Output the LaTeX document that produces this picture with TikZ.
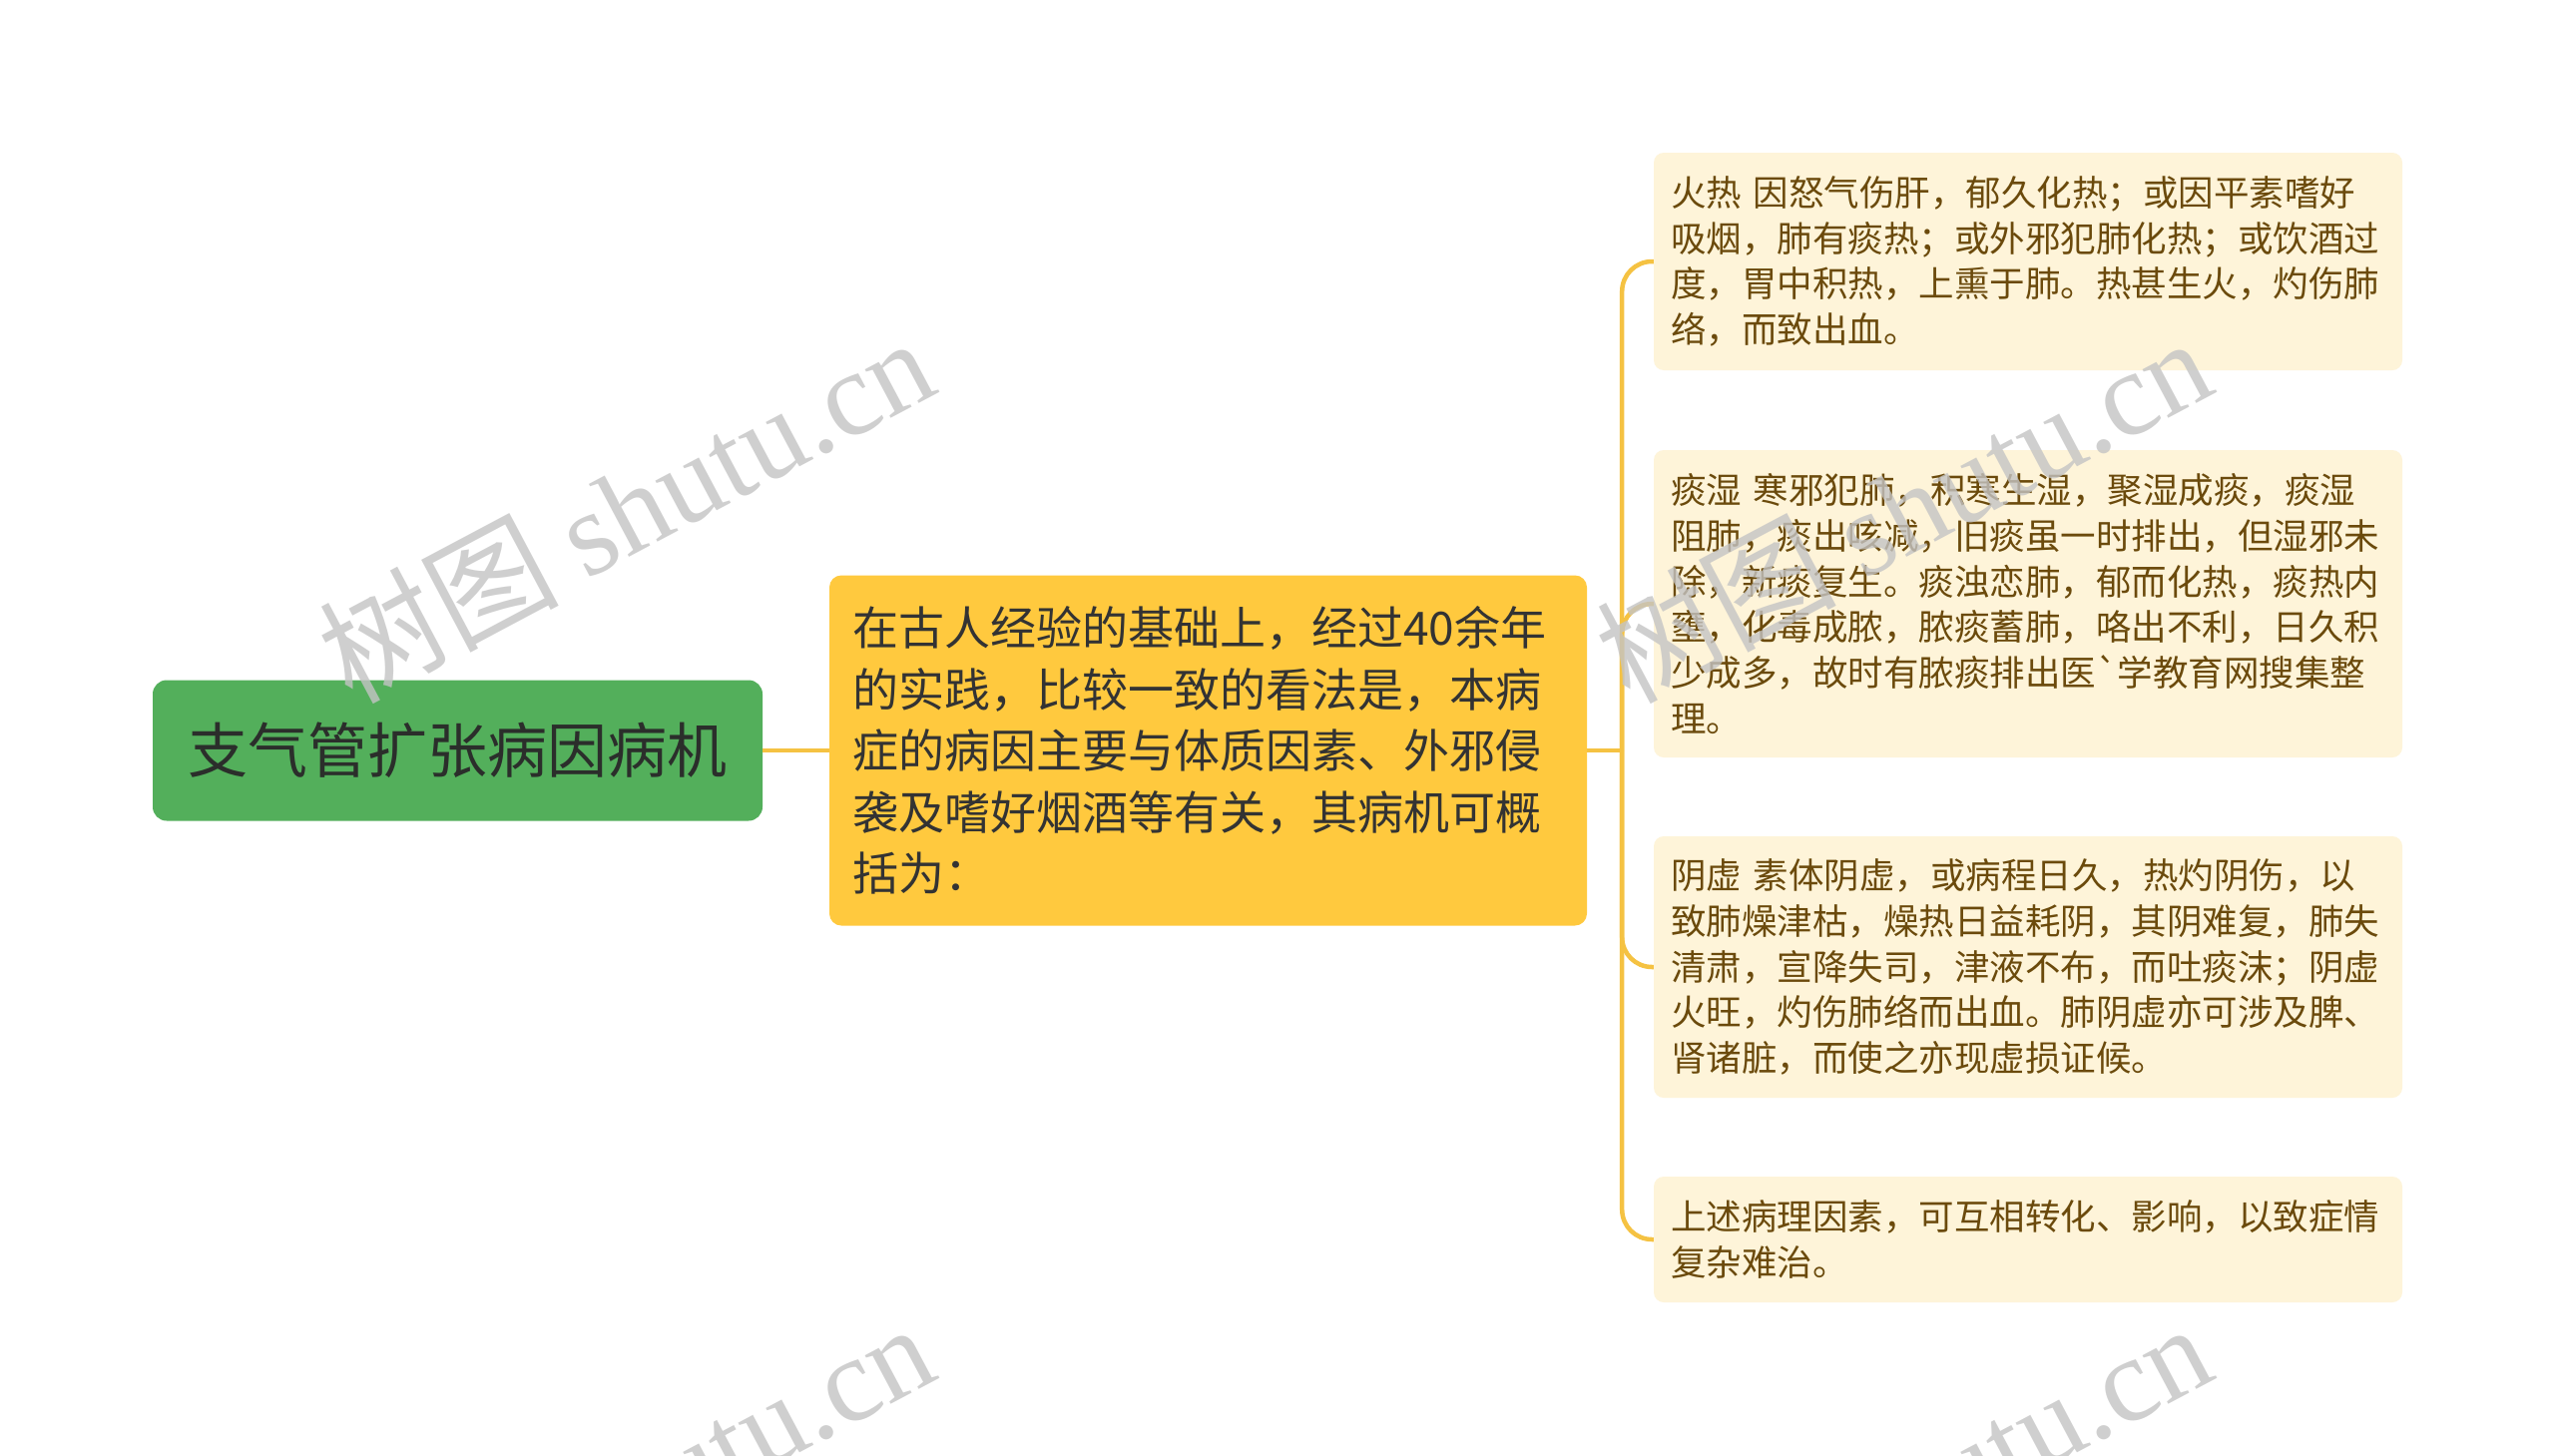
\documentclass[tikz,border=0pt]{standalone}
\usepackage{fontspec}
\setmainfont{Noto Sans CJK SC}
\newfontfamily\rawcjk{Noto Sans CJK SC}
\newfontfamily\wmfont{Liberation Serif}
\definecolor{rootgreen}{HTML}{53AF5B}
\definecolor{roottext}{HTML}{2B2E2B}
\definecolor{midyellow}{HTML}{FFC93E}
\definecolor{midtext}{HTML}{333333}
\definecolor{leaffill}{HTML}{FEF4D9}
\definecolor{leaftext}{HTML}{6B4A0C}
\definecolor{connc}{HTML}{F5C242}
\definecolor{wmgray}{HTML}{C4C4C4}
\begin{document}
\begin{tikzpicture}[x=1pt,y=-1pt,
  rootbox/.style={fill=rootgreen, rounded corners=14pt, minimum width=611pt, minimum height=141pt,
    inner sep=0pt, text=roottext, font=\fontsize{60}{72}\selectfont},
  midbox/.style={fill=midyellow, rounded corners=12pt, text width=713pt, inner xsep=23pt,
    minimum height=351pt, align=left, text=midtext, font=\fontsize{46}{61.6}\selectfont},
  leafbox/.style={fill=leaffill, rounded corners=10pt, text width=716pt, inner xsep=17pt,
    align=left, text=leaftext, font=\fontsize{35.5}{45.7}\selectfont},
  conn/.style={draw=connc, line width=4.5pt},
  wm/.style={rotate=28, text=wmgray, opacity=0.8, font=\fontsize{120}{120}\selectfont, inner sep=0pt}]
\useasboundingbox[fill=white] (0,0) rectangle (2560,1459);

\node[rootbox] (root) at (458.5,752) {支气管扩张病因病机};
\node[midbox] (mid) at (1210.5,752) {在古人经验的基础上，经过40余年\\的实践，比较一致的看法是，本病\\症的病因主要与体质因素、外邪侵\\袭及嗜好烟酒等有关，其病机可概\\括为：};

\node[leafbox, minimum height=218pt] (l1) at (2032,262) {火热 因怒气伤肝，郁久化热；或因平素嗜好\\吸烟，肺有痰热；或外邪犯肺化热；或饮酒过\\度，胃中积热，上熏于肺。热甚生火，灼伤肺\\络，而致出血。};
\node[leafbox, minimum height=308pt] (l2) at (2032,605) {痰湿 寒邪犯肺，积寒生湿，聚湿成痰，痰湿\\阻肺，痰出咳减，旧痰虽一时排出，但湿邪未\\除，新痰复生。痰浊恋肺，郁而化热，痰热内\\壅，化毒成脓，脓痰蓄肺，咯出不利，日久积\\少成多，故时有脓痰排出医{\rawcjk`}学教育网搜集整\\理。};
\node[leafbox, minimum height=262pt] (l3) at (2032,969) {阴虚 素体阴虚，或病程日久，热灼阴伤，以\\致肺燥津枯，燥热日益耗阴，其阴难复，肺失\\清肃，宣降失司，津液不布，而吐痰沫；阴虚\\火旺，灼伤肺络而出血。肺阴虚亦可涉及脾、\\肾诸脏，而使之亦现虚损证候。};
\node[leafbox, minimum height=126pt] (l4) at (2032,1242) {上述病理因素，可互相转化、影响，以致症情\\复杂难治。};

\coordinate (jn) at ([xshift=35pt]mid.east);
\draw[conn] (root.east) -- (mid.west);
\draw[conn] (mid.east) -- (jn);
\foreach \b in {l1,l2,l3,l4}
  \draw[conn, rounded corners=30pt] (jn) |- (\b.west);

\node[wm, anchor=base east] (wm1) at (944,392) {树图 {\wmfont shutu.cn}};
\node[wm, anchor=base east] (wm2) at (2224,392) {树图 {\wmfont shutu.cn}};
\node[wm, anchor=base east] (wm3) at (944,1380) {树图 {\wmfont shutu.cn}};
\node[wm, anchor=base east] (wm4) at (2224,1380) {树图 {\wmfont shutu.cn}};
\end{tikzpicture}
\end{document}
